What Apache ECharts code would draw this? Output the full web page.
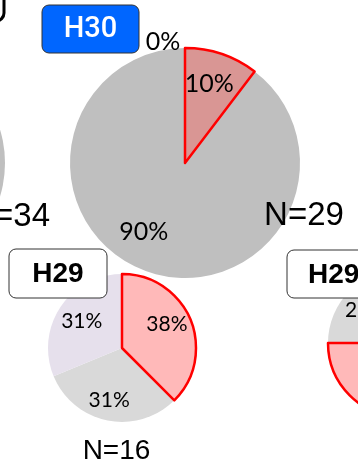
<!DOCTYPE html>
<html>
<head>
<meta charset="utf-8">
<script src="https://cdn.jsdelivr.net/npm/echarts@6/dist/echarts.min.js"></script>
<style>
  html, body { margin: 0; padding: 0; background: #fff; }
  #chart { width: 358px; height: 467px; }
</style>
</head>
<body>
<div id="chart"></div>
<script>
// Slice values, listed clockwise from 12 o'clock (highlighted slice first)
const sliceNames = ['A', 'B', 'C'];
const leftValues = [34];          // N=34, mostly off-canvas
const h30Values = [3, 26, 0];     // N=29
const h29Values = [6, 5, 5];      // N=16
const rightValues = [9, 3];       // partially visible pie

// Panel captions
const captions = { h30: 'H30', h29: 'H29' };
const nLabels = { left: 'N=34', h30: 'N=29', h29: 'N=16' };

// Colours for each slice (same order as the values)
const leftColors = ['#bfbfbf'];
const h30Colors = ['#d99694', '#bfbfbf', '#bfbfbf'];
const h29Colors = ['#ffb9b9', '#d9d9d9', '#e6e0ec'];
const rightColors = ['#ffb9b9', '#d9d9d9'];

// Label nudges (dx, dy) from the default inside position, same order as values
const h30Nudge = [[5, -22], [-22, 12], [-22, -61]];
const h29Nudge = [[8, -8], [-5, 13], [-7, -5]];
const rightNudge = [[0, 0], [-8, -4]];

// Put the highlighted (first) slice last so its red outline sits on top,
// and rotate the start angle so it still begins at 12 o'clock.
function buildPie(values, colors, center, radius, nudges, opts) {
  const total = values.reduce((a, b) => a + b, 0);
  const order = values.map((v, i) => i).slice(1).concat([0]);
  const data = order.map(i => ({
    name: sliceNames[i] || ('S' + i),
    value: values[i],
    itemStyle: (i === 0 && opts.outline)
      ? { color: colors[i], borderColor: '#ff0000', borderWidth: 2.5, borderJoin: 'round' }
      : { color: colors[i], borderWidth: 0 },
    nudge: nudges ? nudges[i] : [0, 0]
  }));
  return {
    type: 'pie',
    center: center,
    radius: radius,
    startAngle: 90 - 360 * values[0] / total,
    clockwise: true,
    percentPrecision: 0,
    avoidLabelOverlap: false,
    stillShowZeroSum: true,
    minShowLabelAngle: 0,
    silent: true,
    label: {
      show: opts.label,
      position: 'inside',
      formatter: '{d}%',
      color: '#000',
      fontFamily: 'Lato',
      fontSize: opts.fontSize || 20
    },
    labelLine: { show: false },
    emphasis: { disabled: true },
    data: data,
    labelLayout: function (p) {
      const item = data[p.dataIndex];
      return { dx: item.nudge[0], dy: item.nudge[1] };
    }
  };
}

const seriesList = [
  buildPie(leftValues, leftColors, [-110, 163], 115, null, { label: false, outline: false }),
  buildPie(h30Values, h30Colors, [185, 163], 115, h30Nudge, { label: true, outline: true, fontSize: 25 }),
  buildPie(h29Values, h29Colors, [122, 348], 74, h29Nudge, { label: true, outline: true, fontSize: 21 }),
  buildPie(rightValues, rightColors, [402, 343], 74, rightNudge, { label: true, outline: true, fontSize: 21 })
];

function caption(text, x, y, font, fill, align) {
  return { type: 'text', z: 101, style: { text: text, x: x, y: y, font: font, fill: fill,
    align: align, verticalAlign: 'middle', textAlign: align, textVerticalAlign: 'middle' } };
}

const chart = echarts.init(document.getElementById('chart'), null, { renderer: 'canvas' });

chart.setOption({
  animation: false,
  backgroundColor: '#ffffff',
  series: seriesList,
  graphic: [
    // frame corner at the top-left edge
    { type: 'rect', z: 100, shape: { x: -100, y: -30, width: 104, height: 51, r: 8 },
      style: { fill: 'none', stroke: '#000', lineWidth: 3 } },
    // H30 caption
    { type: 'rect', z: 100, shape: { x: 42, y: 5, width: 97, height: 48, r: 7 },
      style: { fill: '#0066ff', stroke: '#333', lineWidth: 1 } },
    caption(captions.h30, 90.5, 30, '500 29px Roboto', '#fff', 'center'),
    // H29 captions
    { type: 'rect', z: 100, shape: { x: 9, y: 249, width: 98, height: 49, r: 7 },
      style: { fill: '#fff', stroke: '#333', lineWidth: 1 } },
    caption(captions.h29, 58, 274, 'bold 28px "Liberation Sans"', '#000', 'center'),
    { type: 'rect', z: 100, shape: { x: 287, y: 250, width: 98, height: 48, r: 7 },
      style: { fill: '#fff', stroke: '#333', lineWidth: 1 } },
    caption(captions.h29, 308, 275, 'bold 28px "Liberation Sans"', '#000', 'left'),
    // sample sizes
    caption(nLabels.left, 50, 217, '33px "Liberation Sans"', '#000', 'right'),
    caption(nLabels.h30, 304, 216, '33px "Liberation Sans"', '#000', 'center'),
    caption(nLabels.h29, 116.5, 451, '28px "Liberation Sans"', '#000', 'center')
  ]
});
</script>
</body>
</html>
